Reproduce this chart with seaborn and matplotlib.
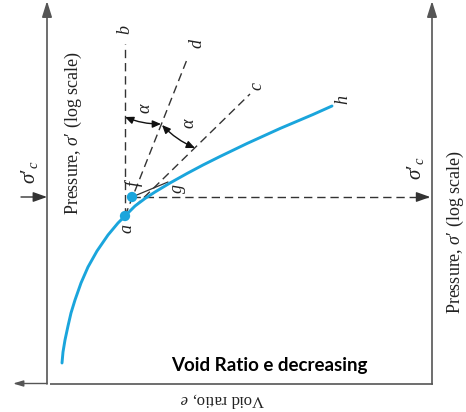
import matplotlib
matplotlib.use("Agg")
import matplotlib.pyplot as plt
import seaborn as sns
from matplotlib.patches import FancyArrowPatch

sns.set_theme(style="white")
plt.rcParams['mathtext.fontset'] = 'custom'
plt.rcParams['mathtext.rm'] = 'Liberation Serif'
plt.rcParams['mathtext.it'] = 'Liberation Serif:italic'
plt.rcParams['mathtext.bf'] = 'Liberation Serif:bold'
plt.rcParams['font.family'] = ['Liberation Serif', 'DejaVu Sans']

# e-log(sigma') curve (horizontal: void ratio decreasing to the right; vertical: pressure, image units)
curve_x = [62, 63, 65, 68, 71, 75, 81, 88, 97, 108, 118, 125, 135, 145, 155, 170, 187, 203, 220, 247, 280, 313, 332]
curve_y = [363, 352, 340, 326, 313, 300, 283, 267, 251, 235, 223, 216, 206, 198.5, 192, 183, 173.5, 165, 156.5, 143.5, 128.5, 114.5, 106]

point_names = ['a', 'f']
point_x = [125, 132]
point_y = [216, 197]

# construction lines
line_b = ([125, 125], [216, 44])
line_d = ([125, 188], [216, 57])
line_c = ([125, 250], [216, 94])
line_fg = ([132, 168], [197, 182])
line_h_x = [132, 428]
sigma_c_y = 197

CURVE = '#1aa5dc'
DARK = '#333333'
AX = '#555555'

fig = plt.figure(figsize=(4.66, 4.12), dpi=100)
ax = fig.add_axes([0, 0, 1, 1])
ax.set_xlim(0, 466)
ax.set_ylim(412, 0)
ax.axis('off')

dash = (0, (6, 3.5))
lw_d = 1.0
ax.plot(*line_b, color=DARK, lw=lw_d, linestyle=dash)
ax.plot(*line_d, color=DARK, lw=lw_d, linestyle=dash)
ax.plot(*line_c, color=DARK, lw=lw_d, linestyle=dash)
ax.plot(line_h_x, [sigma_c_y, sigma_c_y], color=DARK, lw=lw_d, linestyle=dash)
ax.plot(*line_fg, color=DARK, lw=0.9)
ax.annotate('', xy=(433, sigma_c_y), xytext=(418, sigma_c_y),
            arrowprops=dict(arrowstyle='-|>,head_length=0.7,head_width=0.25', color=DARK, lw=lw_d))

# axes frame
ax.annotate('', xy=(47, 1), xytext=(47, 384),
            arrowprops=dict(arrowstyle='-|>,head_length=0.8,head_width=0.25', color=AX, lw=1.2, shrinkA=0, shrinkB=0))
ax.annotate('', xy=(432, 1), xytext=(432, 384),
            arrowprops=dict(arrowstyle='-|>,head_length=0.8,head_width=0.25', color=AX, lw=1.2, shrinkA=0, shrinkB=0))
ax.plot([50, 432.6], [383.5, 383.5], color=AX, lw=1.2, solid_capstyle='butt')
ax.annotate('', xy=(13, 383.5), xytext=(47, 383.5),
            arrowprops=dict(arrowstyle='-|>,head_length=0.5,head_width=0.15', color=AX, lw=1.0, shrinkA=0, shrinkB=0))
ax.annotate('', xy=(47, sigma_c_y), xytext=(21, sigma_c_y),
            arrowprops=dict(arrowstyle='-|>,head_length=0.7,head_width=0.25', color=DARK, lw=1.0, shrinkA=0, shrinkB=0))

# curve and points
sns.lineplot(x=curve_x, y=curve_y, sort=False, ax=ax, color=CURVE, lw=2.1, estimator=None,
             solid_joinstyle='round', solid_capstyle='round')
sns.scatterplot(x=point_x, y=point_y, ax=ax, color=CURVE, s=55, edgecolor='none', zorder=5)

# alpha arcs
for p0, p1 in [((125, 117), (161, 124)), ((162, 125), (195, 148))]:
    arr = FancyArrowPatch(p0, p1, connectionstyle='arc3,rad=0.1',
                          arrowstyle='<|-|>,head_length=5,head_width=2.2', color='#111111', lw=1.0,
                          shrinkA=0, shrinkB=0)
    ax.add_patch(arr)

lab = dict(rotation=90, ha='center', va='center', fontsize=13, color='#222222')
for t, x, y in [('b', 125, 30), ('d', 197, 43), ('c', 257, 86), ('h', 343, 100),
                ('a', 127, 229), ('f', 134, 182), ('g', 180, 189),
                (r'\alpha', 146, 108), (r'\alpha', 189, 123)]:
    ax.text(x, y, f'${t}$', **lab)

sig_c = "$\\sigma$\u2032$_c$"
ax.text(30, 172, sig_c, rotation=90, ha='center', va='center', fontsize=15, color='#222222')
ax.text(415, 168, sig_c, rotation=90, ha='center', va='center', fontsize=15, color='#222222')
press = "Pressure, $\\sigma$\u2032 (log scale)"
ax.text(73, 133, press, rotation=90, ha='center', va='center', fontsize=13, color='#222222')
ax.text(455, 232, press, rotation=90, ha='center', va='center', fontsize=13, color='#222222')
ax.text(222, 400, r"Void ratio, $e$", rotation=180, ha='center', va='center', fontsize=12, color='#222222')
ax.text(269, 366, "Void Ratio e decreasing", ha='center', va='center', fontsize=13.5,
        fontweight='bold', family=['Lato', 'DejaVu Sans'], color='black')

fig.savefig('out.png', dpi=100, facecolor='white')
